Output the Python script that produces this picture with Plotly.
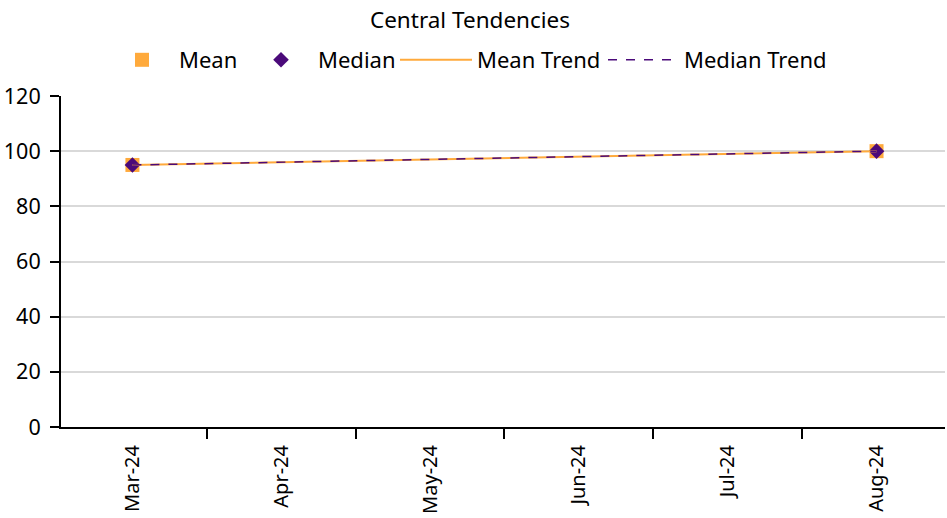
import plotly.graph_objects as go

months = ["Mar-24", "Apr-24", "May-24", "Jun-24", "Jul-24", "Aug-24"]
x_dates = ["Mar-24", "Aug-24"]
mean_vals = [95, 100]
median_vals = [95, 100]
mean_trend = [95, 100]
median_trend = [95, 100]

ORANGE = "#FFAA3C"
PURPLE = "#4B0A7A"
FONT = "Noto Sans"

W, H = 947, 518
L, R, T, B = 61, 2, 96, 91
PW = W - L - R
PH = H - T - B


def lx(px):
    # px in screen coords -> plot-area fraction
    return (px - L) / PW


LEG_Y = (H - B - 60) / PH

fig = go.Figure()
fig.add_trace(go.Scatter(x=x_dates, y=mean_vals, mode="markers", name="Mean", legend="legend",
                         marker=dict(symbol="square", size=14, color=ORANGE)))
fig.add_trace(go.Scatter(x=x_dates, y=median_vals, mode="markers", name="Median", legend="legend2",
                         marker=dict(symbol="diamond", size=12, color=PURPLE)))
fig.add_trace(go.Scatter(x=x_dates, y=mean_trend, mode="lines", name="Mean Trend", legend="legend3",
                         line=dict(color=ORANGE, width=2)))
fig.add_trace(go.Scatter(x=x_dates, y=median_trend, mode="lines", name="Median Trend", legend="legend4",
                         line=dict(color=PURPLE, width=1.5, dash="dash")))

leg_common = dict(yanchor="middle", xanchor="left", y=LEG_Y, font=dict(family=FONT, size=22),
                  bgcolor="rgba(0,0,0,0)", borderwidth=0)

fig.update_layout(
    width=W, height=H,
    paper_bgcolor="white", plot_bgcolor="white",
    font=dict(family=FONT, size=20, color="#000000"),
    margin=dict(l=L, r=R, t=T, b=B, autoexpand=False),
    title=dict(text="Central Tendencies", x=470 / W, xanchor="center",
               y=1 - 20 / H, yanchor="middle",
               font=dict(family=FONT, size=22.5, color="#000000")),
    legend=dict(x=lx(105), itemwidth=64, **leg_common),
    legend2=dict(x=lx(244), itemwidth=64, **leg_common),
    legend3=dict(x=lx(395), itemwidth=72, **leg_common),
    legend4=dict(x=lx(603), itemwidth=71, **leg_common),
    showlegend=True,
    xaxis=dict(type="category", categoryorder="array", categoryarray=months,
               range=[-0.48, 5.46], tickmode="array", tickvals=months, ticktext=months,
               tickson="boundaries", ticks="outside", ticklen=10, tickwidth=2, tickcolor="black",
               showline=True, linecolor="black", linewidth=2, showgrid=False,
               tickangle=-90, tickfont=dict(family=FONT, size=20), ticklabelstandoff=8,
               zeroline=False),
    yaxis=dict(range=[0, 120], dtick=20, tick0=0, ticks="outside", ticklen=9, tickwidth=2,
               tickcolor="black", showline=True, linecolor="black", linewidth=2,
               showgrid=True, gridcolor="#D9D9D9", gridwidth=2, zeroline=False,
               tickfont=dict(family=FONT, size=21.5), ticklabelstandoff=5),
)

fig.write_html("out.html", config={"displayModeBar": False},
               post_script="document.body.style.margin='0';document.body.style.overflow='hidden';")
